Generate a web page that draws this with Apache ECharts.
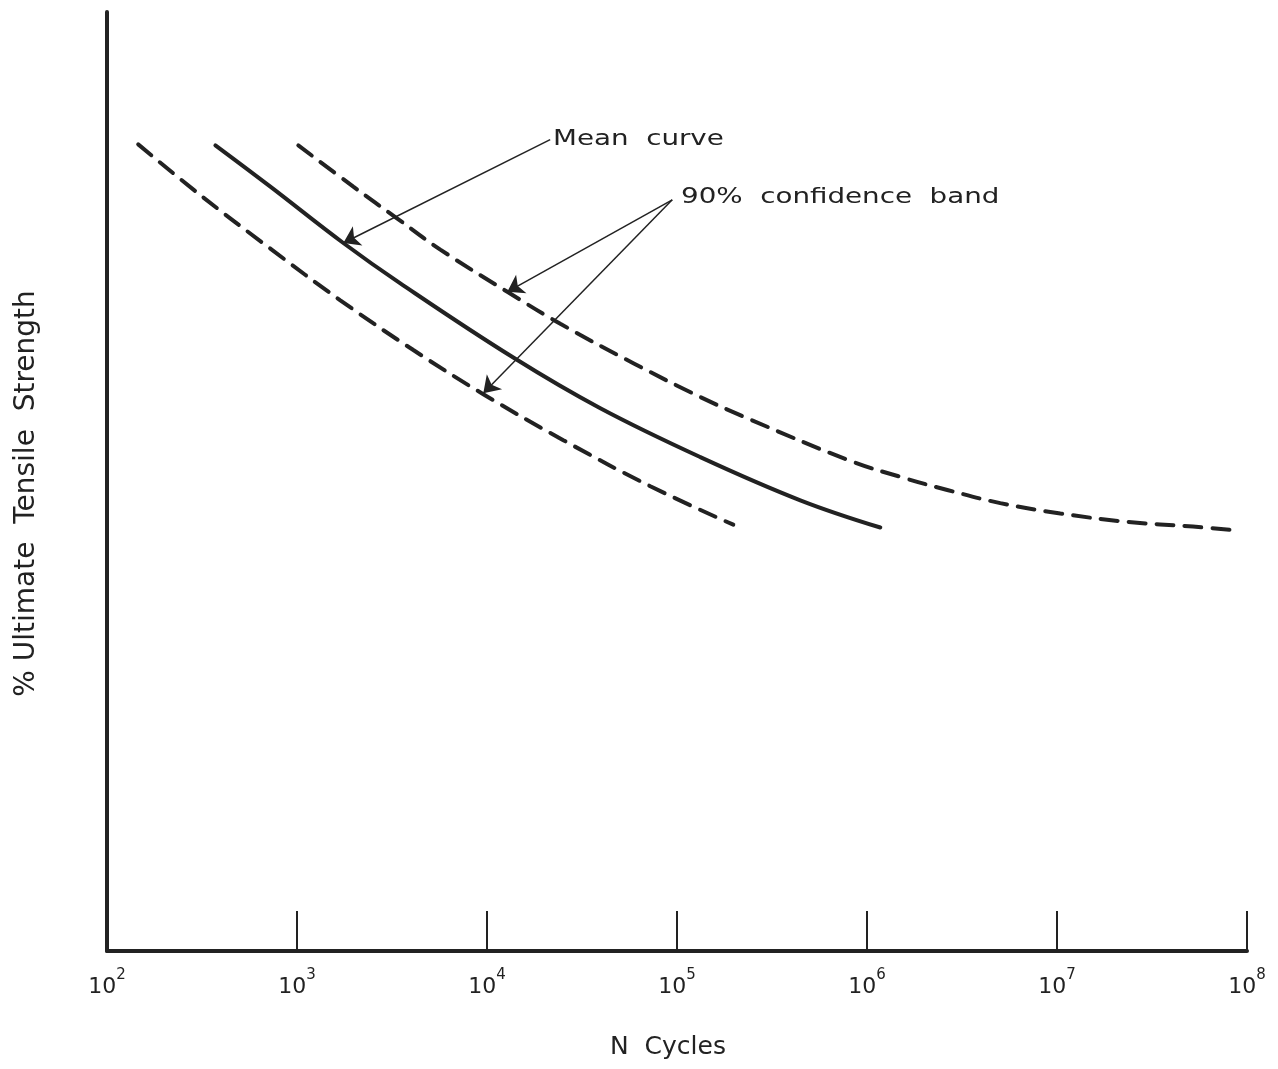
<!DOCTYPE html>
<html>
<head>
<meta charset="utf-8">
<script src="https://cdn.jsdelivr.net/npm/echarts@6/dist/echarts.min.js"></script>
<style>
html, body {margin: 0; padding: 0; background: #fff;}
#main {width: 1278px; height: 1069px;}
</style>
</head>
<body>
<div id="main"></div>
<script>
/* tick labels: powers of ten on the N axis */
const tickExp = [2, 3, 4, 5, 6, 7, 8];

/* lower 90% band: N cycles and % UTS (y axis has no scale, 0-100 nominal) */
const lowerN = [146, 310, 724, 1690, 4094, 9561, 25210, 72360, 197800];
const lowerS = [85.9, 80.5, 74.8, 69.3, 64.0, 59.3, 54.4, 49.5, 45.4];

/* mean curve */
const meanN = [372, 724, 1753, 3498, 13750, 39480, 132600, 445600, 1175000];
const meanS = [85.8, 81.4, 75.4, 71.1, 63.2, 57.8, 52.6, 48.0, 45.1];

/* upper 90% band */
const upperN = [1016, 1978, 3373, 5678, 12790, 24310, 58880, 132600, 243100, 816900,
  1553000, 2646000, 5029000, 10410000, 23440000, 51970000, 86790000];
const upperS = [85.8, 81.4, 78.0, 74.7, 70.2, 66.8, 62.6, 59.0, 56.6, 52.2,
  50.4, 49.1, 47.7, 46.6, 45.7, 45.2, 44.8];

/* leader lines: [from, arrow tip] */
const meanLeader = [[21500, 86.4], [1753, 75.4]];
const bandLeaderUp = [[94400, 80.0], [12790, 70.2]];
const bandLeaderLow = [[94400, 80.0], [9561, 59.4]];

function zip(a, b) { return a.map((v, i) => [v, b[i]]); }

const ink = '#222';
const font = '"DejaVu Sans", sans-serif';

const leaderStyle = {
  silent: true,
  animation: false,
  symbol: ['none', 'arrow'],
  symbolSize: 16,
  label: {show: false},
  emphasis: {disabled: true},
  lineStyle: {color: ink, width: 1.5, type: 'solid'}
};

var myChart = echarts.init(document.getElementById('main'));
option = {
  animation: false,
  backgroundColor: '#fff',
  grid: {left: 107, right: 31, top: 12, bottom: 118, containLabel: false, outerBoundsMode: 'none'},
  xAxis: {
    type: 'log',
    logBase: 10,
    min: 100,
    max: 100000000,
    name: 'N  Cycles',
    nameLocation: 'middle',
    nameGap: 84,
    nameTextStyle: {fontSize: 25, color: ink, fontFamily: font, padding: [0, 18, 0, 0]},
    axisLine: {show: true, lineStyle: {color: ink, width: 4}},
    axisTick: {show: true, inside: true, length: 40, lineStyle: {color: ink, width: 2}},
    minorTick: {show: false},
    splitLine: {show: false},
    axisLabel: {
      margin: 17,
      formatter: function (v) {
        let e = Math.round(Math.log10(v));
        return tickExp.indexOf(e) >= 0 ? '{b|10}{s|' + e + '}' : '';
      },
      rich: {
        b: {fontSize: 22, lineHeight: 30, verticalAlign: 'bottom', color: ink, fontFamily: font},
        s: {fontSize: 15, lineHeight: 30, verticalAlign: 'top', color: ink, fontFamily: font}
      }
    }
  },
  yAxis: {
    type: 'value',
    min: 0,
    max: 100,
    name: '% Ultimate  Tensile  Strength',
    nameLocation: 'middle',
    nameGap: 66,
    nameTextStyle: {fontSize: 28, color: ink, fontFamily: font, padding: [0, 24, 0, 0]},
    axisLine: {show: true, lineStyle: {color: ink, width: 4}},
    axisTick: {show: false},
    axisLabel: {show: false},
    splitLine: {show: false}
  },
  series: [
    {
      name: 'lower',
      type: 'line',
      data: zip(lowerN, lowerS),
      smooth: 0.4,
      symbol: 'none',
      lineStyle: {color: ink, width: 4, type: [17, 11], cap: 'round'},
      markLine: Object.assign({}, leaderStyle, {
        data: [[{coord: bandLeaderLow[0]}, {coord: bandLeaderLow[1]}]]
      })
    },
    {
      name: 'mean',
      type: 'line',
      data: zip(meanN, meanS),
      smooth: 0.4,
      symbol: 'none',
      lineStyle: {color: ink, width: 4, type: 'solid', cap: 'round'},
      markLine: Object.assign({}, leaderStyle, {
        data: [[{coord: meanLeader[0]}, {coord: meanLeader[1]}]]
      })
    },
    {
      name: 'upper',
      type: 'line',
      data: zip(upperN, upperS),
      smooth: 0.4,
      symbol: 'none',
      lineStyle: {color: ink, width: 4, type: [17, 11], cap: 'round'},
      markLine: Object.assign({}, leaderStyle, {
        data: [[{coord: bandLeaderUp[0]}, {coord: bandLeaderUp[1]}]]
      })
    }
  ],
  graphic: [
    {type: 'text', x: 553, y: 140, scaleX: 1.32, silent: true,
     style: {text: 'Mean  curve', fontSize: 21, fontFamily: font, fill: ink, verticalAlign: 'middle'}},
    {type: 'text', x: 681, y: 198, scaleX: 1.32, silent: true,
     style: {text: '90%  confidence  band', fontSize: 21, fontFamily: font, fill: ink, verticalAlign: 'middle'}}
  ]
};
myChart.setOption(option);
</script>
</body>
</html>
